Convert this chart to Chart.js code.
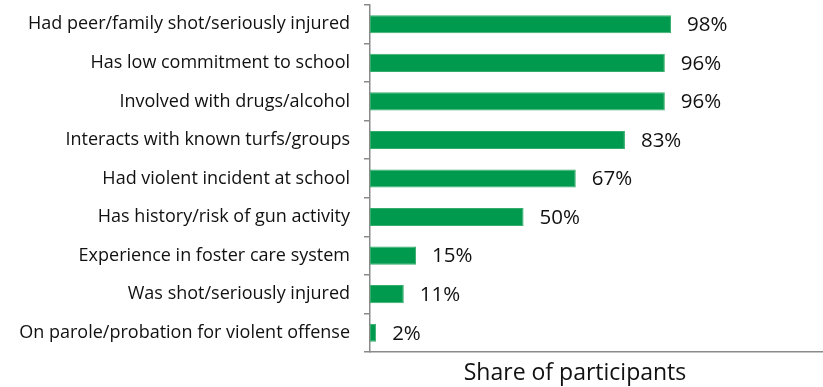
<!DOCTYPE html>
<html>
<head>
<meta charset="utf-8">
<script src="https://cdn.jsdelivr.net/npm/chart.js@4.4.1/dist/chart.umd.min.js"></script>
<style>
  html, body { margin: 0; padding: 0; background: #ffffff; }
  #wrap { width: 823px; height: 387px; }
</style>
</head>
<body>
<div id="wrap"><canvas id="c" width="823" height="387"></canvas></div>
<script>
// Risk factors among participants (percent)
const categories = [
  'Had peer/family shot/seriously injured',
  'Has low commitment to school',
  'Involved with drugs/alcohol',
  'Interacts with known turfs/groups',
  'Had violent incident at school',
  'Has history/risk of gun activity',
  'Experience in foster care system',
  'Was shot/seriously injured',
  'On parole/probation for violent offense'
];
const shares = [98, 96, 96, 83, 67, 50, 15, 11, 2];
const axisTitle = 'Share of participants';

const FONT = '"Open Sans", Lato, sans-serif';
const AXIS_GREY = '#8a8a8a';

// Percent labels just past the end of each bar
const valueLabels = {
  id: 'valueLabels',
  afterDatasetsDraw(chart) {
    const ctx = chart.ctx;
    const meta = chart.getDatasetMeta(0);
    ctx.save();
    ctx.font = '20.5px ' + FONT;
    ctx.fillStyle = '#111111';
    ctx.textAlign = 'left';
    ctx.textBaseline = 'middle';
    meta.data.forEach((bar, i) => {
      ctx.fillText(shares[i] + '%', bar.x + 16, bar.y + 1);
    });
    ctx.restore();
  }
};

// Axis title under the bottom axis
const bottomTitle = {
  id: 'bottomTitle',
  afterDraw(chart) {
    const ctx = chart.ctx;
    const area = chart.chartArea;
    ctx.save();
    ctx.font = '23px ' + FONT;
    ctx.fillStyle = '#111111';
    ctx.textAlign = 'center';
    ctx.textBaseline = 'middle';
    ctx.fillText(axisTitle, area.left + 205, area.bottom + 21);
    ctx.restore();
  }
};

new Chart(document.getElementById('c'), {
  type: 'bar',
  data: {
    labels: categories,
    datasets: [{
      data: shares,
      backgroundColor: '#009a4e',
      borderColor: '#36ad6b',
      borderWidth: 1,
      borderSkipped: false,
      barPercentage: 0.47,
      categoryPercentage: 1.0
    }]
  },
  options: {
    indexAxis: 'y',
    responsive: false,
    animation: false,
    devicePixelRatio: 1,
    layout: { padding: { top: 5, right: 0, bottom: 0, left: 0 } },
    plugins: {
      legend: { display: false },
      tooltip: { enabled: false },
      title: { display: false }
    },
    scales: {
      x: {
        min: 0,
        max: 147.5,
        ticks: { display: false },
        grid: { display: false },
        border: { display: true, color: AXIS_GREY, width: 1.5 },
        afterFit(scale) {
          scale.height = 35;
          scale.paddingLeft = 0;
          scale.paddingRight = 0;
        }
      },
      y: {
        offset: true,
        ticks: {
          color: '#111111',
          padding: 14,
          font: { family: FONT, size: 18 }
        },
        grid: {
          offset: true,
          drawOnChartArea: false,
          drawTicks: true,
          tickLength: 6,
          color: AXIS_GREY,
          lineWidth: 1.5
        },
        border: { display: true, color: AXIS_GREY, width: 1.5 },
        afterFit(scale) {
          scale.width = 370;
          scale.paddingTop = 0;
          scale.paddingBottom = 0;
        }
      }
    }
  },
  plugins: [valueLabels, bottomTitle]
});
</script>
</body>
</html>
